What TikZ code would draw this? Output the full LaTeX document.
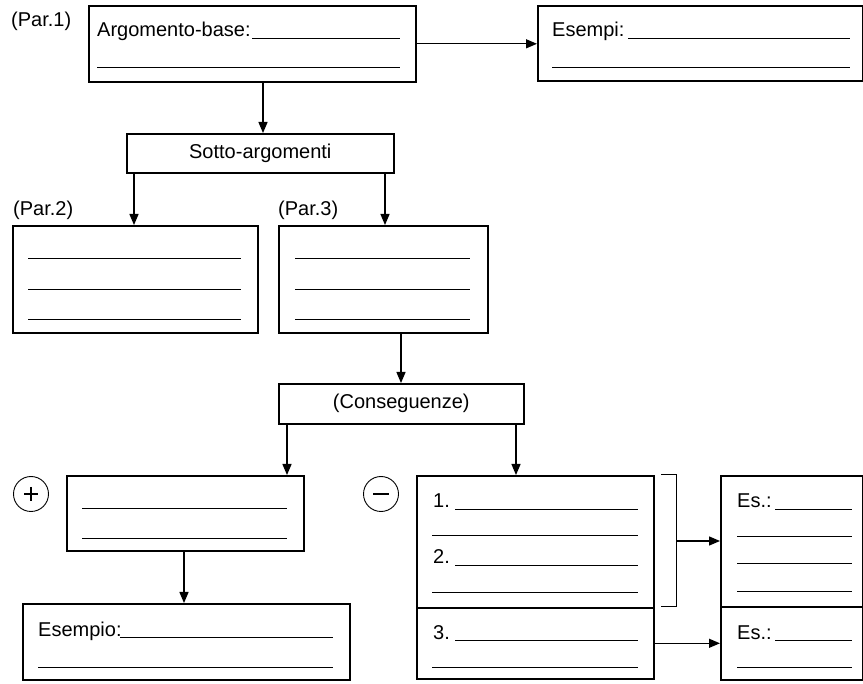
\documentclass[tikz,border=0pt]{standalone}
\usepackage{fontspec}
\setmainfont{Liberation Sans}
\usetikzlibrary{arrows.meta}
\begin{document}
\begin{tikzpicture}[x=1pt,y=-1pt,
  box/.style={draw, line width=1.6pt, inner sep=0pt, anchor=north west, font=\fontsize{20}{22}\selectfont},
  wline/.style={line width=0.9pt},
  arr/.style={line width=1.3pt, -{Triangle[length=11pt,width=9pt]}},
  lbl/.style={inner sep=0pt, anchor=base west, font=\fontsize{20}{22}\selectfont},
  sign/.style={circle, draw, line width=0.9pt, minimum size=35pt, inner sep=0pt},
  signstroke/.style={line width=1.8pt},
  ]
\useasboundingbox (0,0) rectangle (863,684);

% top row
\node[lbl] (par1) at (11,27) {(Par.1)};
\node[box, minimum width=327pt, minimum height=76pt] (arg) at (88,5) {};
\node[lbl] (argt) at (97,37) {Argomento-base:};
\draw[wline] (252,38) -- (400,38);
\draw[wline] (97,67) -- (400,67);

\node[box, minimum width=325pt, minimum height=75pt] (esm) at (537,5) {};
\node[lbl] (esmt) at (552,37) {Esempi:};
\draw[wline] (628,38) -- (850,38);
\draw[wline] (552,67) -- (850,67);

\draw[arr] (arg.east) -- (arg.east -| esm.west);

% sotto-argomenti
\node[box, minimum width=267pt, minimum height=39pt] (sotto) at (126,133) {Sotto-argomenti};
\draw[arr] (arg.south -| 263,0) -- (sotto.north -| 263,0);

% Par.2 / Par.3
\node[lbl] (par2) at (13,216) {(Par.2)};
\node[lbl] (par3) at (278,216) {(Par.3)};
\node[box, minimum width=245pt, minimum height=107pt] (p2) at (12,225) {};
\node[box, minimum width=209pt, minimum height=107pt] (p3) at (278,225) {};
\foreach \yy in {258,289,319} {
  \draw[wline] (28,\yy) -- (241,\yy);
  \draw[wline] (295,\yy) -- (470,\yy);
}
\draw[arr] (sotto.south -| 134,0) -- (p2.north -| 134,0);
\draw[arr] (sotto.south -| 385,0) -- (p3.north -| 385,0);

% conseguenze
\node[box, minimum width=245pt, minimum height=40pt] (cons) at (278,383) {(Conseguenze)};
\draw[arr] (p3.south -| 401,0) -- (cons.north -| 401,0);

% plus branch
\node[sign] (plus) at (31,494) {};
\draw[signstroke] (plus.center) +(-7,0) -- +(7,0);
\draw[signstroke] (plus.center) +(0,-7) -- +(0,7);
\node[box, minimum width=237pt, minimum height=75pt] (pbox) at (66,475) {};
\draw[wline] (82,508) -- (287,508);
\draw[wline] (82,538) -- (287,538);
\draw[arr] (cons.south -| 287,0) -- (pbox.north -| 287,0);

\node[box, minimum width=327pt, minimum height=76pt] (esp) at (22,603) {};
\node[lbl] (espt) at (38,636) {Esempio:};
\draw[wline] (120,637) -- (333,637);
\draw[wline] (38,667) -- (333,667);
\draw[arr] (pbox.south -| 184,0) -- (esp.north -| 184,0);

% minus branch
\node[sign] (minus) at (381,494) {};
\draw[signstroke] (minus.center) +(-8,0) -- +(8,0);
\node[box, minimum width=237pt, minimum height=132pt] (b1) at (416,475) {};
\node[box, minimum width=237pt, minimum height=71pt] (b2) at (416,607) {};
\draw[arr] (cons.south -| 516,0) -- (b1.north -| 516,0);
\node[lbl] (n1) at (433,508) {1.};
\node[lbl] (n2) at (433,564) {2.};
\node[lbl] (n3) at (433,639) {3.};
\draw[wline] (455,509) -- (638,509);
\draw[wline] (432,535) -- (638,535);
\draw[wline] (455,565) -- (638,565);
\draw[wline] (432,592) -- (638,592);
\draw[wline] (455,640) -- (638,640);
\draw[wline] (432,667) -- (638,667);

% bracket
\draw[line width=1pt] (661,475) -- (676,475) -- (676,607) -- (661,607);
\coordinate (brk) at (676,541);

% Es boxes
\node[box, minimum width=142pt, minimum height=131pt] (es1) at (720,475) {};
\node[box, minimum width=142pt, minimum height=73pt] (es2) at (720,606) {};
\node[lbl] (es1t) at (737,508) {Es.:};
\node[lbl] (es2t) at (737,639) {Es.:};
\draw[wline] (775,509) -- (852,509);
\draw[wline] (737,536) -- (852,536);
\draw[wline] (737,563) -- (852,563);
\draw[wline] (737,591) -- (852,591);
\draw[wline] (775,640) -- (852,640);
\draw[wline] (737,667) -- (852,667);

\draw[arr] (brk) -- (brk -| es1.west);
\draw[arr] (b2.east) -- (es2.west);
\end{tikzpicture}
\end{document}
